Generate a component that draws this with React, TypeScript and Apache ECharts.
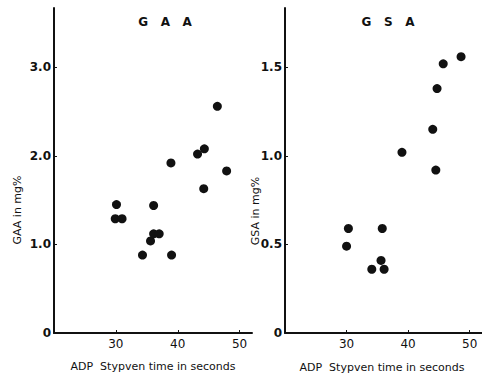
import React, { useEffect, useRef } from "react";
import * as echarts from "echarts";

const xTicks = [30, 40, 50];
const gaaTicks = [0, 1, 2, 3];
const gsaTicks = [0, 0.5, 1, 1.5];

const gaaX = [30.1, 29.9, 31.0, 36.1, 34.3, 39.0, 35.6, 36.1, 37.0, 38.9, 43.2, 44.3, 44.2, 46.4, 47.9];
const gaaY = [1.45, 1.29, 1.29, 1.44, 0.88, 0.88, 1.04, 1.12, 1.12, 1.92, 2.02, 2.08, 1.63, 2.56, 1.83];

const gsaX = [30.3, 30.0, 35.8, 35.6, 34.1, 36.1, 39.0, 44.0, 44.5, 44.7, 45.7, 48.6];
const gsaY = [0.59, 0.49, 0.59, 0.41, 0.36, 0.36, 1.02, 1.15, 0.92, 1.38, 1.52, 1.56];

const FONT = "DejaVu Sans";
const INK = "#111";

export default function App() {
  const ref = useRef<HTMLDivElement>(null);
  useEffect(() => {
    if (!ref.current) return;
    const chart = echarts.init(ref.current, null, { renderer: "svg" });
    const axisBase = (gridIndex: number) => ({
      gridIndex,
      type: "value" as const,
      splitLine: { show: false },
      axisLine: { show: true, onZero: false, lineStyle: { color: INK, width: 2 } },
    });
    const xAxis = (gridIndex: number) => ({
      ...axisBase(gridIndex),
      min: 20,
      max: 52,
      axisTick: { show: true, inside: true, length: 3, customValues: xTicks, lineStyle: { color: INK } },
      axisLabel: {
        customValues: xTicks,
        color: INK,
        fontFamily: FONT,
        fontSize: 12,
        margin: 5,
      },
    });
    const yAxis = (gridIndex: number, max: number, ticks: number[]) => ({
      ...axisBase(gridIndex),
      min: 0,
      max,
      axisTick: { show: true, inside: true, length: 3, customValues: ticks, lineStyle: { color: INK } },
      axisLabel: {
        customValues: ticks,
        color: INK,
        fontFamily: FONT,
        fontSize: 12,
        fontWeight: "bold",
        margin: 3,
        formatter: (v: number) => (v === 0 ? "0" : v.toFixed(1)),
      },
    });
    const pts = (xs: number[], ys: number[]) => xs.map((x, i) => [x, ys[i]]);
    chart.setOption({
      animation: false,
      backgroundColor: "#fff",
      grid: [
        { left: 54, top: 8, width: 198, height: 325 },
        { left: 285, top: 8, width: 197, height: 325 },
      ],
      xAxis: [xAxis(0), xAxis(1)],
      yAxis: [yAxis(0, 3.67, gaaTicks), yAxis(1, 1.835, gsaTicks)],
      series: [
        {
          type: "scatter",
          xAxisIndex: 0,
          yAxisIndex: 0,
          symbolSize: 9,
          itemStyle: { color: INK, opacity: 1 },
          data: pts(gaaX, gaaY),
        },
        {
          type: "scatter",
          xAxisIndex: 1,
          yAxisIndex: 1,
          symbolSize: 9,
          itemStyle: { color: INK, opacity: 1 },
          data: pts(gsaX, gsaY),
        },
      ],
      graphic: [
        { type: "text", x: 165, y: 22, style: { text: "G   A   A", font: `bold 12px ${FONT}`, fill: INK, align: "center", verticalAlign: "middle" } },
        { type: "text", x: 388, y: 22, style: { text: "G   S   A", font: `bold 12px ${FONT}`, fill: INK, align: "center", verticalAlign: "middle" } },
        { type: "text", x: 17, y: 210, rotation: Math.PI / 2, style: { text: "GAA in mg%", font: `11px ${FONT}`, fill: INK, align: "center", verticalAlign: "middle" } },
        { type: "text", x: 255, y: 211, rotation: Math.PI / 2, style: { text: "GSA in mg%", font: `11px ${FONT}`, fill: INK, align: "center", verticalAlign: "middle" } },
        { type: "text", x: 153, y: 366, style: { text: "ADP  Stypven time in seconds", font: `11px ${FONT}`, fill: INK, align: "center", verticalAlign: "middle" } },
        { type: "text", x: 382, y: 367, style: { text: "ADP  Stypven time in seconds", font: `11px ${FONT}`, fill: INK, align: "center", verticalAlign: "middle" } },
      ],
    });
    return () => chart.dispose();
  }, []);
  return <div ref={ref} style={{ position: "absolute", left: 0, top: 0, width: 482, height: 378 }} />;
}
